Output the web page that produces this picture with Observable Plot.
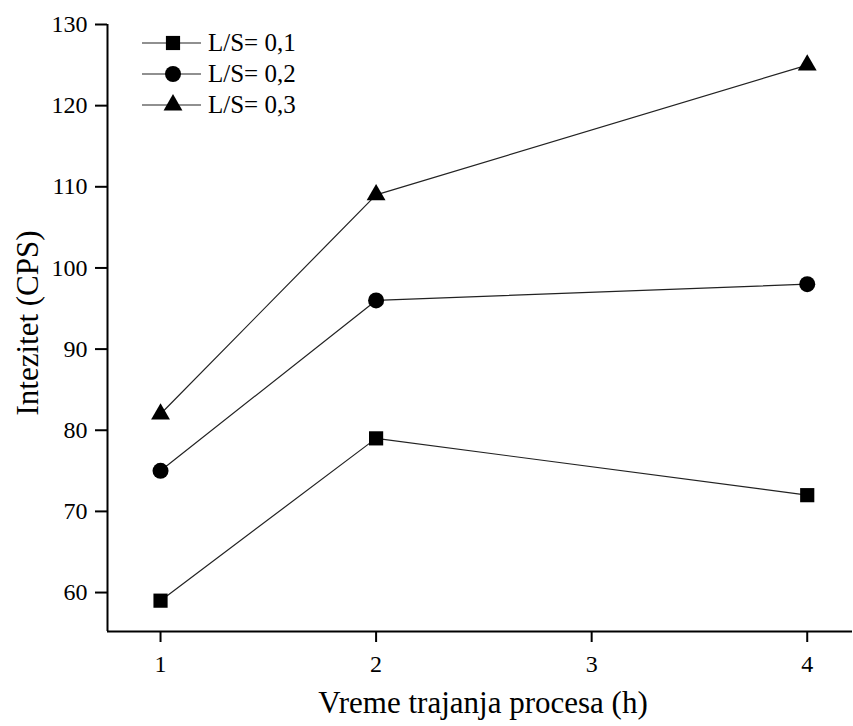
<!DOCTYPE html>
<html>
<head>
<meta charset="utf-8">
<script src="https://cdn.jsdelivr.net/npm/d3@7"></script>
<script src="https://cdn.jsdelivr.net/npm/@observablehq/plot@0.6"></script>
<style>
  html, body { margin: 0; padding: 0; background: #fff; }
  #chart svg { display: block; }
</style>
</head>
<body>
<div id="chart"></div>
<script>
// ---- data ----
const hours = [1, 2, 4];
const ls01 = [59, 79, 72];
const ls02 = [75, 96, 98];
const ls03 = [82, 109, 125];
const seriesNames = ["L/S= 0,1", "L/S= 0,2", "L/S= 0,3"];
const seriesSymbols = ["square", "circle", "triangle"];
const seriesR = [8, 8, 7];
const xTicks = [1, 2, 3, 4];
const yTicks = [60, 70, 80, 90, 100, 110, 120, 130];
const xTitle = "Vreme trajanja procesa (h)";
const yTitle = "Intezitet (CPS)";
const xDomain = [0.754, 4.21];
const yDomain = [55.2, 130];

const seriesValues = [ls01, ls02, ls03];
const rows = [];
seriesValues.forEach((vals, s) => vals.forEach((v, i) => rows.push({series: seriesNames[s], x: hours[i], y: v})));

const marks = [
  Plot.ruleX([xDomain[0]], {stroke: "black", strokeWidth: 2}),
  Plot.ruleY([yDomain[0]], {stroke: "black", strokeWidth: 2}),
  Plot.axisX({ticks: xTicks, tickSize: 11, tickPadding: 12, fontSize: 24, strokeWidth: 2, label: null, tickFormat: d => String(d)}),
  Plot.axisY({ticks: yTicks, tickSize: 12, tickPadding: 8, fontSize: 24, strokeWidth: 2, label: null, tickFormat: d => String(d)}),
  Plot.text([xTitle], {frameAnchor: "bottom", textAnchor: "middle", lineAnchor: "middle", dy: 72, dx: 3, fontSize: 31}),
  Plot.text([yTitle], {frameAnchor: "left", textAnchor: "middle", lineAnchor: "bottom", rotate: -90, dx: -70, dy: -5, fontSize: 31}),
  Plot.line(rows, {x: "x", y: "y", z: "series", stroke: "#222", strokeWidth: 1.2})
];
seriesNames.forEach((name, s) => {
  marks.push(Plot.dot(rows.filter(d => d.series === name), {x: "x", y: "y", symbol: seriesSymbols[s], r: seriesR[s], fill: "black", stroke: "none"}));
});

const chart = Plot.plot({
  width: 853,
  height: 726,
  marginTop: 24,
  marginBottom: 95,
  marginLeft: 107,
  marginRight: 1,
  style: {fontFamily: "'Liberation Serif', 'Times New Roman', serif", background: "white", color: "black"},
  x: {domain: xDomain, axis: null},
  y: {domain: yDomain, axis: null},
  marks
});

// legend (inside plot, top-left)
const svg = d3.select(chart);
const lg = svg.append("g")
  .attr("font-family", "'Liberation Serif', 'Times New Roman', serif")
  .attr("font-size", 25)
  .attr("text-anchor", "start");
const symMap = {square: d3.symbolSquare, circle: d3.symbolCircle, triangle: d3.symbolTriangle};
seriesNames.forEach((name, i) => {
  const yy = 43 + i * 31;
  const g = lg.append("g").attr("transform", `translate(0,${yy})`);
  g.append("line").attr("x1", 142).attr("x2", 201).attr("y1", 0).attr("y2", 0).attr("stroke", "#222").attr("stroke-width", 1.2);
  g.append("path").attr("transform", "translate(173,0)")
    .attr("d", d3.symbol(symMap[seriesSymbols[i]], Math.PI * seriesR[i] * seriesR[i])())
    .attr("fill", "black");
  g.append("text").attr("x", 208).attr("y", 0).attr("dy", "0.33em").attr("text-anchor", "start").text(name);
});

document.getElementById("chart").appendChild(chart);
</script>
</body>
</html>
